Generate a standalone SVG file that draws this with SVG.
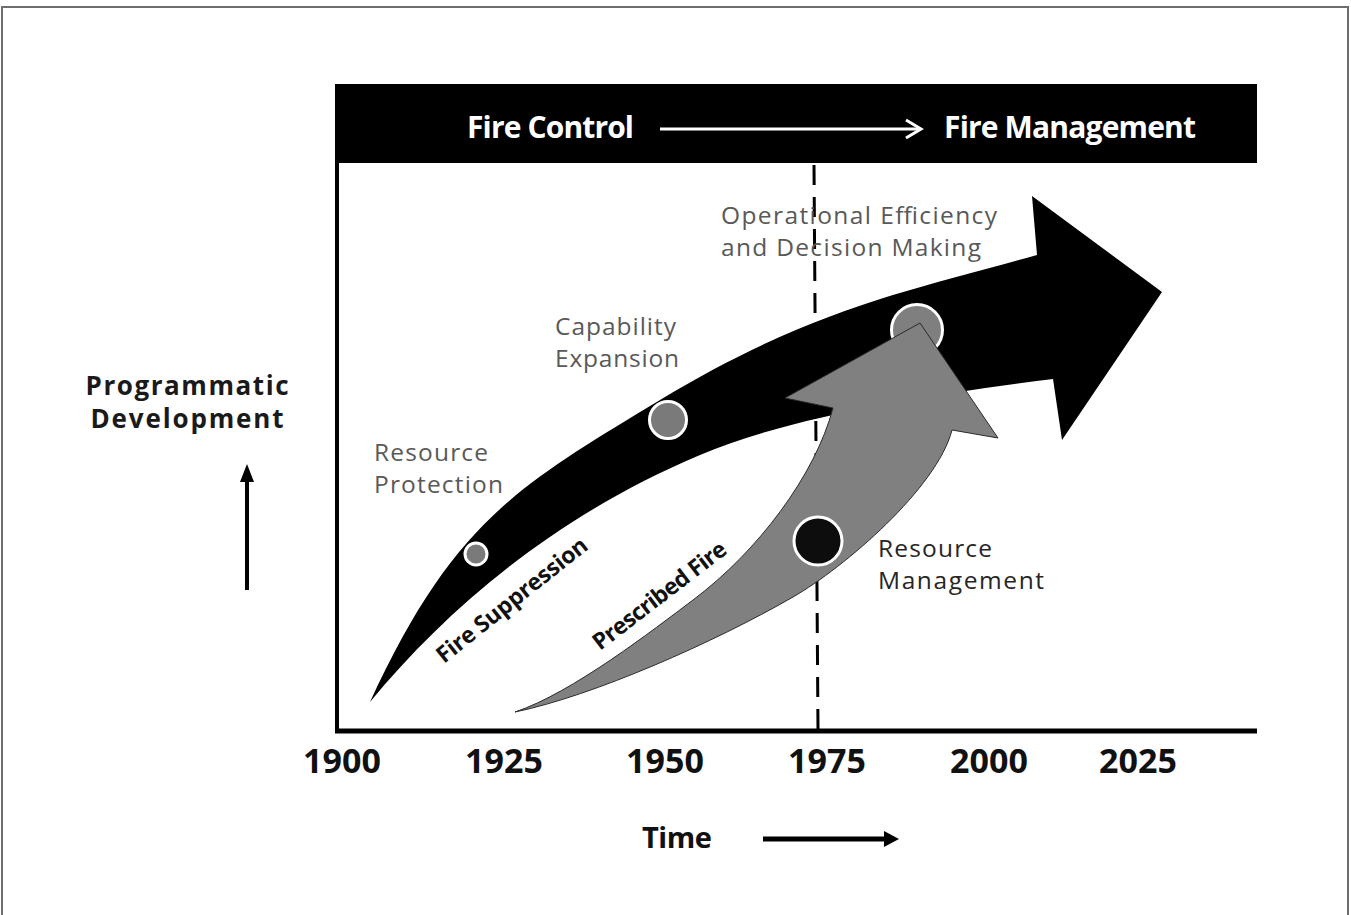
<svg xmlns="http://www.w3.org/2000/svg" width="1351" height="915" viewBox="0 0 1351 915">
<style>
.lbl{font-family:"Open Sans","Liberation Sans",sans-serif;font-size:24.5px;fill:#595959}
.lbld{font-family:"Open Sans","Liberation Sans",sans-serif;font-size:24.5px;fill:#262626}
.bold{font-family:"Open Sans","Liberation Sans",sans-serif;font-weight:bold}
.yr{font-family:"Open Sans","Liberation Sans",sans-serif;font-weight:bold;font-size:34px;fill:#111;text-anchor:middle}
.hdr{font-family:"Open Sans","Liberation Sans",sans-serif;font-weight:bold;font-size:30px;fill:#fff}
.dot{stroke:#fff;stroke-width:3}
</style>
<rect width="1351" height="915" fill="#fff"/>
<path d="M2,916 V7 H1348 V916" fill="none" stroke="#6e6e6e" stroke-width="2"/>

<g id="header">
  <rect x="337" y="84" width="920" height="79" fill="#000"/>
  <text class="hdr" x="467" y="138" textLength="167">Fire Control</text>
  <text class="hdr" x="944" y="138" textLength="252">Fire Management</text>
</g>

<g id="axes">
  <line x1="814" y1="165" x2="818" y2="731" stroke="#000" stroke-width="3" stroke-dasharray="20 12"/>
  <line x1="337" y1="84" x2="337" y2="733" stroke="#000" stroke-width="4"/>
  <line x1="335" y1="731" x2="1257" y2="731" stroke="#000" stroke-width="5"/>
</g>

<g id="fire-suppression">
  <path d="M370,702 C454,520 520,485 660,400 C810,309 912,290 1037,255 L1032,196 L1162,292 L1062,440 L1053,379 C933,394 792,416 700,455 C553,517 446,610 370,702 Z" fill="#000"/>
  <text class="bold" font-size="23" fill="#111" textLength="186" transform="translate(444,664) rotate(-38.5)">Fire Suppression</text>
</g>

<g id="dot-efficiency"><circle class="dot" cx="917" cy="330" r="25.5" fill="#7f7f7f"/></g>
<g id="dot-capability"><circle class="dot" cx="668" cy="420" r="18.5" fill="#7a7a7a"/></g>
<g id="dot-protection"><circle class="dot" cx="476" cy="554" r="11" fill="#7a7a7a"/></g>

<g id="prescribed-fire">
  <path d="M515,712 C572,693 653,630 693,600 C757,552 815,476 833,408 L785,398 L920,323 L998,438 L952,430 C937,488 845,567 793,597 C715,642 593,696 515,712 Z" fill="#808080" stroke="#2a2a2a" stroke-width="1"/>
  <text class="bold" font-size="23" fill="#111" textLength="162" transform="translate(600,651) rotate(-37.5)">Prescribed Fire</text>
</g>

<g id="dot-management"><circle class="dot" cx="818" cy="541" r="24" fill="#0d0d0d"/></g>

<g id="label-protection">
  <text class="lbl" x="374" y="461" textLength="114">Resource</text>
  <text class="lbl" x="374" y="493" textLength="129">Protection</text>
</g>
<g id="label-capability">
  <text class="lbl" x="555" y="335" textLength="121">Capability</text>
  <text class="lbl" x="555" y="367" textLength="124">Expansion</text>
</g>
<g id="label-efficiency">
  <text class="lbl" x="721" y="224" textLength="276">Operational Efficiency</text>
  <text class="lbl" x="721" y="256" textLength="260">and Decision Making</text>
</g>
<g id="label-management">
  <text class="lbld" x="878" y="557" textLength="114">Resource</text>
  <text class="lbld" x="878" y="589" textLength="166">Management</text>
</g>

<g id="y-axis-title">
  <text class="bold" font-size="26" fill="#1a1a1a" x="187" y="395" text-anchor="middle" textLength="203">Programmatic</text>
  <text class="bold" font-size="26" fill="#1a1a1a" x="187" y="428" text-anchor="middle" textLength="193">Development</text>
</g>

<g id="years">
  <text class="yr" x="342" y="773">1900</text>
  <text class="yr" x="504" y="773">1925</text>
  <text class="yr" x="665" y="773">1950</text>
  <text class="yr" x="827" y="773">1975</text>
  <text class="yr" x="989" y="773">2000</text>
  <text class="yr" x="1138" y="773">2025</text>
</g>

<g id="x-axis-title">
  <text class="bold" font-size="29" fill="#111" x="642" y="848" textLength="70">Time</text>
</g>

<g id="connectors">
  <line x1="660" y1="129" x2="918" y2="129" stroke="#fff" stroke-width="3"/>
  <polyline points="906,120 921,129 906,138" fill="none" stroke="#fff" stroke-width="3"/>
  <line x1="763" y1="839" x2="886" y2="839" stroke="#000" stroke-width="5"/>
  <polygon points="884,831 899,839 884,847" fill="#000"/>
  <line x1="247" y1="590" x2="247" y2="478" stroke="#000" stroke-width="4"/>
  <polygon points="240,482 247,464 254,482" fill="#000"/>
</g>
</svg>
